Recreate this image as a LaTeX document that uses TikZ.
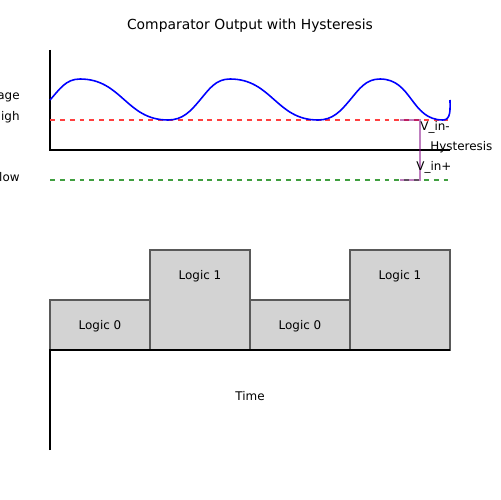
\documentclass[tikz,border=0pt]{standalone}
\usepackage{fontspec}
\setmainfont{DejaVu Sans}
\usepackage{tikz}

\definecolor{hyspurple}{RGB}{128,0,128}

\begin{document}
\begin{tikzpicture}[
        x=0.02cm, y=-0.02cm,
        axis/.style={
            draw=black,
            line width=1.1pt
        },
        level/.style={
            draw=black!65,
            fill={rgb,255:red,211;green,211;blue,211},
            line width=0.6pt
        },
        label/.style={
            font=\fontsize{6.8}{8}\selectfont,
            inner sep=0pt
        },
        threshold/.style={
            dashed,
            dash pattern=on 2.8pt off 2.8pt,
            line width=0.9pt
        }
    ]
    \useasboundingbox (0,0) rectangle (500,500);

    \node[font=\fontsize{7.9}{9}\selectfont] (title) at (250,26) {Comparator Output with Hysteresis};

    % input signal
    \coordinate (topO) at (50,150);
    \coordinate (topY) at (50,50);
    \coordinate (topX) at (450,150);
    \draw[axis] (topY) -- (topO) -- (topX);

    \draw[threshold, red!75] (50,120) -- (450,120);
    \draw[threshold, green!50!black!75] (50,180) -- (450,180);

    \draw[blue, line width=0.9pt] (50,100)
        to[out=48,in=180] (80,79)
        to[out=0,in=180,looseness=1.1] (168,120)
        to[out=0,in=230] (200,100)
        to[out=50,in=180] (230,79)
        to[out=0,in=180,looseness=1.1] (318,120)
        to[out=0,in=230] (350,100)
        to[out=50,in=180] (380,79)
        to[out=0,in=180,looseness=1.1] (443,120)
        to[out=0,in=-90] (450,100);

    \coordinate (hysTop) at (420,120);
    \coordinate (hysBot) at (420,180);
    \draw[hyspurple, opacity=0.5, line width=0.7pt] (400,120) -- (hysTop) -- (hysBot) -- (400,180);

    \node[label, anchor=west] (vinminus) at (420,127) {V\_in-};
    \node[label, anchor=west] (hyst) at (430,147) {Hysteresis};
    \node[label, anchor=west] (vinplus) at (416,167) {V\_in+};

    \node[label, anchor=east] (voltage) at (20,97) {age};
    \node[label, anchor=east] (high) at (20,117) {igh};
    \node[label, anchor=east] (low) at (20,177) {low};

    % comparator output
    \node[level, minimum width=2cm, minimum height=1cm, inner sep=0pt] (out1) at (100,325) {};
    \node[level, minimum width=2cm, minimum height=2cm, inner sep=0pt] (out2) at (200,300) {};
    \node[level, minimum width=2cm, minimum height=1cm, inner sep=0pt] (out3) at (300,325) {};
    \node[level, minimum width=2cm, minimum height=2cm, inner sep=0pt] (out4) at (400,300) {};

    \node[label] (logic1) at (100,326) {Logic 0};
    \node[label] (logic2) at (200,276) {Logic 1};
    \node[label] (logic3) at (300,326) {Logic 0};
    \node[label] (logic4) at (400,276) {Logic 1};

    \coordinate (botO) at (50,350);
    \coordinate (botY) at (50,450);
    \coordinate (botX) at (450,350);
    \draw[axis] (botY) -- (botO) -- (botX);

    \node[label] (time) at (250,396) {Time};

    \end{tikzpicture}
\end{document}
